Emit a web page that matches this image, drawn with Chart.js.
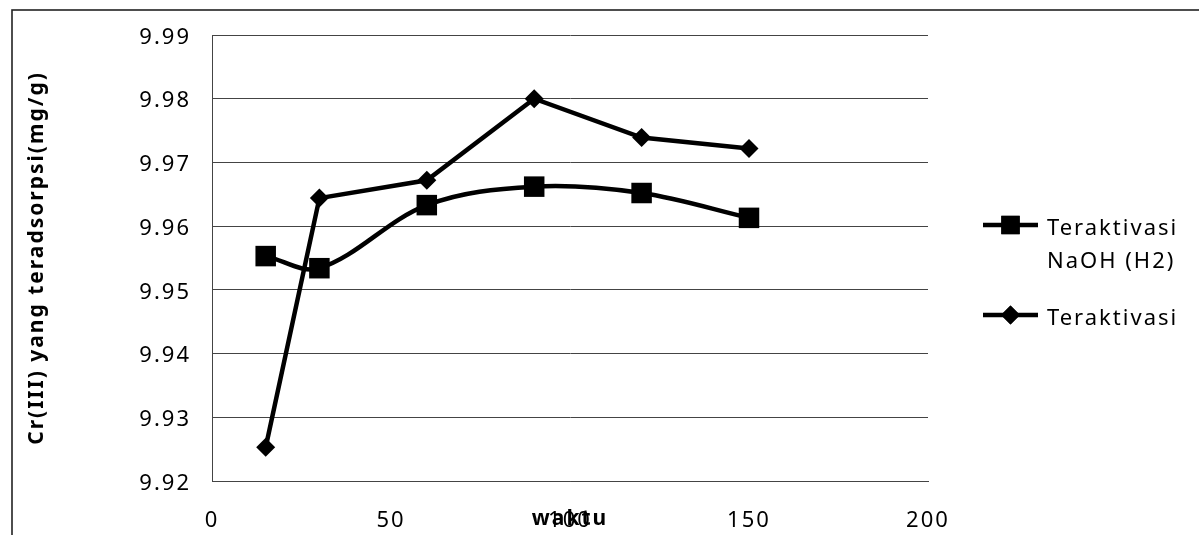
<!DOCTYPE html>
<html>
<head>
<meta charset="utf-8">
<script src="https://cdn.jsdelivr.net/npm/chart.js@4/dist/chart.umd.min.js"></script>
<style>
  html, body { margin: 0; padding: 0; background: #fff; overflow: hidden; }
  #wrap { width: 1199px; height: 535px; }
</style>
</head>
<body>
<div id="wrap"><canvas id="c" width="1199" height="535"></canvas></div>
<script>
// Contact time (waktu) and adsorbed Cr(III) per gram of adsorbent
const waktu = [15, 30, 60, 90, 120, 150];
const naohH2 = [9.9553, 9.9534, 9.9633, 9.9662, 9.9652, 9.9613];
const teraktivasi = [9.9253, 9.9644, 9.9672, 9.9800, 9.9739, 9.9722];

const xTicks = [0, 50, 100, 150, 200];
const yTicks = [9.92, 9.93, 9.94, 9.95, 9.96, 9.97, 9.98, 9.99];

const seriesLabels = [['Teraktivasi', 'NaOH (H2)'], ['Teraktivasi']];
const seriesStyles = ['rect', 'rectRot'];

const FONT = "'Noto Sans', 'DejaVu Sans', sans-serif";

function toPoints(xs, ys) {
  return xs.map((x, i) => ({ x: x, y: ys[i] }));
}

// widened character spacing for all canvas text
const spacingPlugin = {
  id: 'spacing',
  beforeLayout(chart) { chart.ctx.letterSpacing = '2px'; },
  beforeDraw(chart) { chart.ctx.letterSpacing = '2px'; }
};

// white page with the outer chart frame
const framePlugin = {
  id: 'frame',
  beforeDraw(chart) {
    const ctx = chart.ctx;
    ctx.save();
    ctx.fillStyle = '#fff';
    ctx.fillRect(0, 0, chart.width, chart.height);
    ctx.strokeStyle = '#222';
    ctx.lineWidth = 1.6;
    ctx.strokeRect(12, 10, chart.width + 20, chart.height + 20);
    ctx.restore();
  }
};

// legend on the right: line with marker, then (possibly wrapped) name
const legendPlugin = {
  id: 'sideLegend',
  afterDraw(chart) {
    const ctx = chart.ctx;
    const area = chart.chartArea;
    const x0 = area.right + 55;
    const x1 = area.right + 110;
    const xm = (x0 + x1) / 2;
    const tx = area.right + 119;
    const rows = [area.top + 190, area.top + 280];
    ctx.save();
    ctx.letterSpacing = '2px';
    chart.data.datasets.forEach((ds, i) => {
      const y = rows[i];
      ctx.strokeStyle = '#000';
      ctx.lineWidth = 4.5;
      ctx.beginPath();
      ctx.moveTo(x0, y);
      ctx.lineTo(x1, y);
      ctx.stroke();
      Chart.helpers.drawPoint(ctx, {
        pointStyle: seriesStyles[i],
        radius: seriesStyles[i] === 'rect' ? 13 : 9.5,
        rotation: 0,
        borderWidth: 0
      }, xm, y);
      ctx.fillStyle = '#000';
      ctx.fill();
      ctx.font = '22px ' + FONT;
      ctx.textBaseline = 'alphabetic';
      ctx.textAlign = 'left';
      seriesLabels[i].forEach((line, k) => {
        ctx.fillText(line, tx, y + 10 + k * 33);
      });
    });
    ctx.restore();
  }
};

new Chart(document.getElementById('c'), {
  type: 'line',
  data: {
    datasets: [
      {
        label: seriesLabels[0].join(' '),
        data: toPoints(waktu, naohH2),
        borderColor: '#000',
        backgroundColor: '#000',
        borderWidth: 4.5,
        tension: 0.35,
        pointStyle: seriesStyles[0],
        pointRadius: 14.5,
        pointBorderWidth: 0,
        pointBackgroundColor: '#000'
      },
      {
        label: seriesLabels[1].join(' '),
        data: toPoints(waktu, teraktivasi),
        borderColor: '#000',
        backgroundColor: '#000',
        borderWidth: 4.5,
        tension: 0,
        pointStyle: seriesStyles[1],
        pointRadius: 9.5,
        pointBorderWidth: 0,
        pointBackgroundColor: '#000'
      }
    ]
  },
  options: {
    responsive: false,
    animation: false,
    events: [],
    layout: { padding: { top: 35, right: 271, left: 0, bottom: 0 } },
    plugins: {
      legend: { display: false },
      tooltip: { enabled: false }
    },
    scales: {
      x: {
        type: 'linear',
        min: 0,
        max: 200,
        afterBuildTicks: s => { s.ticks = xTicks.map(v => ({ value: v })); },
        afterFit: s => { s.height = 54; },
        grid: { display: false, drawTicks: false },
        border: { display: true, color: '#444', width: 1 },
        ticks: {
          padding: 27,
          color: '#000',
          font: { family: FONT, size: 22 },
          maxRotation: 0,
          callback: v => String(v)
        },
        title: {
          display: true,
          text: 'waktu',
          color: '#000',
          font: { family: FONT, size: 21, weight: 'bold' },
          padding: { top: 0, bottom: 3 }
        }
      },
      y: {
        type: 'linear',
        min: 9.92,
        max: 9.99,
        afterBuildTicks: s => { s.ticks = yTicks.map(v => ({ value: v })); },
        afterFit: s => { s.width = 212; },
        grid: { display: true, drawTicks: false, color: '#444', lineWidth: 1 },
        border: { display: true, color: '#444', width: 1 },
        ticks: {
          padding: 21,
          labelOffset: 2.5,
          color: '#000',
          font: { family: FONT, size: 22 },
          callback: v => Number(v).toFixed(2)
        },
        title: {
          display: true,
          text: 'Cr(III) yang teradsorpsi(mg/g)',
          color: '#000',
          font: { family: FONT, size: 21, weight: 'bold' },
          padding: { top: 24, bottom: 0 }
        }
      }
    }
  },
  plugins: [spacingPlugin, framePlugin, legendPlugin]
});
</script>
</body>
</html>
